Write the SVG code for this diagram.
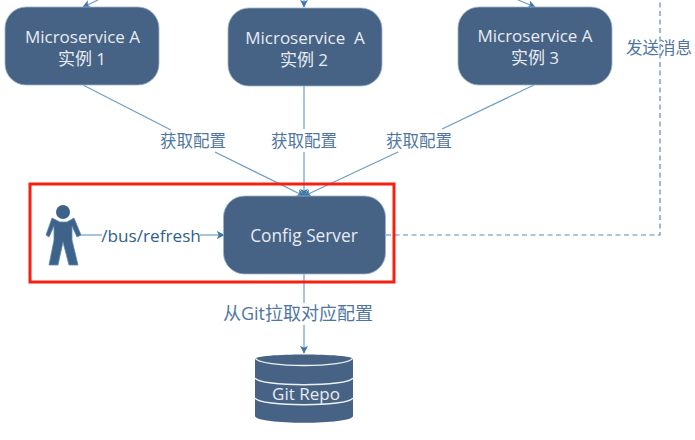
<svg xmlns="http://www.w3.org/2000/svg" width="695" height="440" viewBox="0 0 695 440">
<defs>
<style>
.n{fill:#466285;stroke:#9db4cc;stroke-width:.8}
.w{fill:#e6ecf2;font-family:"Open Sans","Noto Sans CJK SC",sans-serif;font-size:17px;text-anchor:middle}
.b{fill:#4f76a0;font-family:"Open Sans","Noto Sans CJK SC",sans-serif;font-size:16.500px;text-anchor:middle}
.c{fill:none;stroke:#6d9dc5;stroke-width:1.2}
.d{fill:none;stroke:#5b8cb8;stroke-width:1.2;stroke-dasharray:5 3.500}
</style>
<marker id="a" viewBox="0 0 10 10" refX="9" refY="5" markerWidth="8" markerHeight="8" markerUnits="userSpaceOnUse" orient="auto"><path d="M0 0L10 5L0 10L2.500 5Z" fill="#3f78a8"/></marker>
</defs>
<rect width="695" height="440" fill="#fff"/>
<g id="connectors">
<path class="c" d="M83 85L171 130"/><path class="c" d="M215 152L304 196" marker-end="url(#a)"/>
<path class="c" d="M304 86V129"/><path class="c" d="M304 152V196" marker-end="url(#a)"/>
<path class="c" d="M534 85L442 129"/><path class="c" d="M398 152L304 196" marker-end="url(#a)"/>
<path class="c" d="M98 0L83 7" marker-end="url(#a)"/>
<path class="c" d="M304 0V7" marker-end="url(#a)"/>
<path class="c" d="M518 0L535 7" marker-end="url(#a)"/>
<path class="c" d="M80 235H102"/><path class="c" d="M200 235H224" marker-end="url(#a)"/>
<path class="c" d="M304 274V303"/><path class="c" d="M304 325V353" marker-end="url(#a)"/>
<path class="d" d="M386 235H660V0"/>
</g>
<g id="box">
<rect x="30" y="184" width="364" height="98" fill="none" stroke="#f5200f" stroke-width="3"/>
</g>
<g id="a1"><rect class="n" x="5" y="7" width="154" height="78" rx="21"/><text class="w" x="82.500" y="43">Microservice A</text><text class="w" x="82" y="65">实例 1</text></g>
<g id="a2"><rect class="n" x="228" y="8" width="154" height="78" rx="21"/><text class="w" x="305" y="44" xml:space="preserve">Microservice  A</text><text class="w" x="304" y="66">实例 2</text></g>
<g id="a3"><rect class="n" x="458" y="7" width="154" height="78" rx="21"/><text class="w" x="535" y="42">Microservice A</text><text class="w" x="535" y="64">实例 3</text></g>
<g id="config"><rect class="n" x="223.500" y="196" width="162" height="78" rx="21"/><text class="w" x="304" y="242" style="font-size:17.300px">Config Server</text></g>
<g id="user">
<circle cx="63" cy="212" r="7" fill="#3f6288"/>
<path d="M52 218L60 222H67L74 218L81 235L77 237L72 226L72 240L78 265H69L63 242L58 265H49L54 240L54 226L49 237L46 235Z" fill="#3f6288" stroke="#5b8cb8" stroke-width=".8"/>
</g>
<g id="git">
<path class="n" d="M255 359C255 353 353 353 353 359V416C353 425 255 425 255 416Z" style="stroke:none"/>
<path d="M255 358C260 368 348 368 353 358M255 378C260 387 348 387 353 378M255 398C260 407 348 407 353 398" fill="none" stroke="#eef2f6" stroke-width="1.500"/>
<text class="w" x="306" y="400">Git Repo</text>
</g>
<g id="labels">
<text class="b" x="193" y="147">获取配置</text>
<text class="b" x="304" y="147">获取配置</text>
<text class="b" x="419" y="147">获取配置</text>
<text class="b" x="659" y="54">发送消息</text>
<text x="151" y="241.500" style="fill:#2f5f8c;font-family:'Open Sans',sans-serif;font-size:17.200px;text-anchor:middle">/bus/refresh</text>
<text class="b" x="298" y="320" style="font-size:18px">从Git拉取对应配置</text>
</g>
</svg>
